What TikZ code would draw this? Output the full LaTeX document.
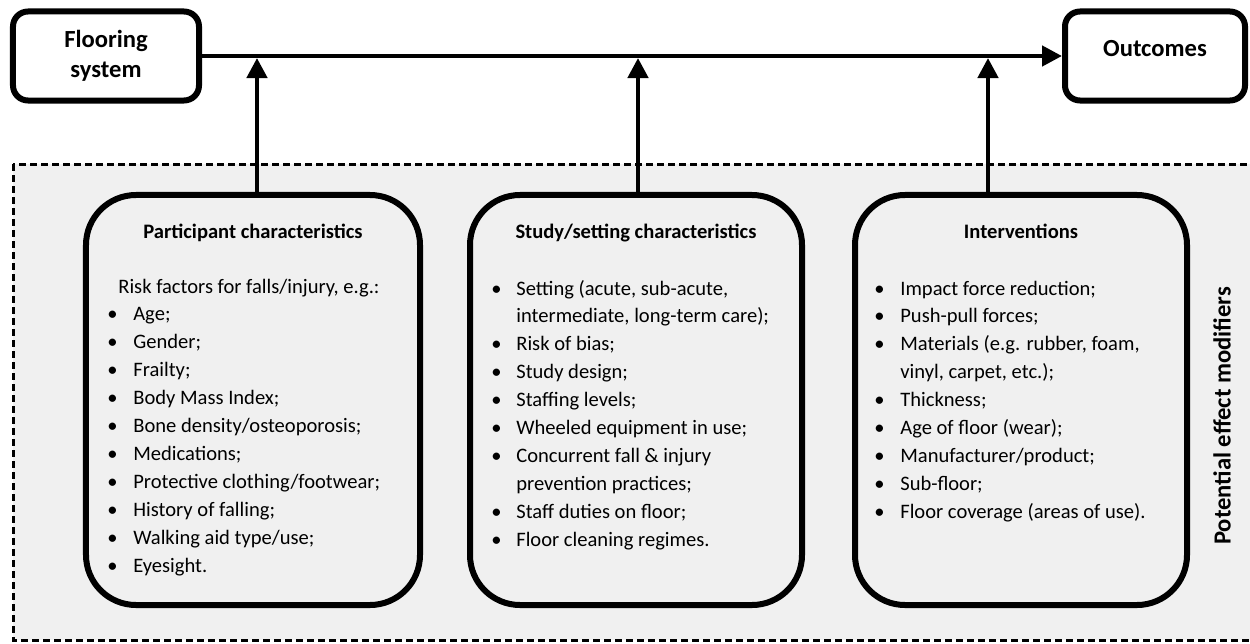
\documentclass[tikz,border=0pt]{standalone}
\usepackage{fontspec}
\setmainfont{Carlito}
\usetikzlibrary{arrows.meta}
\definecolor{panel}{HTML}{F0F0F0}
\tikzset{
  endbox/.style={draw, line width=1.2mm, rounded corners=3mm, fill=white,
    minimum height=17.8mm, align=center, inner sep=0pt,
    font=\fontsize{14}{17}\selectfont\bfseries},
  groupbox/.style={draw, line width=1.2mm, rounded corners=10mm,
    minimum height=82mm, inner sep=0pt},
  flow/.style={line width=0.9mm, -{Triangle[length=4mm,width=4mm]}},
  heading/.style={anchor=base, inner sep=0pt,
    font=\fontsize{11.7}{16}\selectfont\bfseries},
  itemlist/.style={anchor=base west, inner sep=0pt,
    font=\fontsize{11.7}{15.9}\selectfont},
  modregion/.style={line width=0.6mm, dash pattern=on 1.4mm off 0.8mm, fill=panel}
}
\begin{document}
\begin{tikzpicture}[x=0.2mm, y=-0.2mm]
  \useasboundingbox (0,0) rectangle (1250,643);
  \draw[modregion] (13,164) rectangle (1265,640);

  \node[endbox, minimum width=37.2mm] (floor) at (106,56) {Flooring\\system};
  \node[endbox, minimum width=36mm] (out) at (1155,56) {Outcomes\\[-2.8mm]~};

  \node[groupbox, minimum width=66.8mm] (part) at (253,400) {};
  \node[groupbox, minimum width=66.4mm] (study) at (636,400) {};
  \node[groupbox, minimum width=66.4mm] (int) at (1021,400) {};

  \coordinate (tap1) at (257,58);
  \coordinate (tap2) at (638,58);
  \coordinate (tap3) at (988,58);

  \draw[flow] (floor.east) -- (out.west);
  \draw[flow] (part.north -| tap1) -- (tap1);
  \draw[flow] (study.north -| tap2) -- (tap2);
  \draw[flow] (int.north -| tap3) -- (tap3);

  \node[heading] (parthead) at (253,238) {Participant characteristics};
  \node[heading] (studyhead) at (636,238) {Study/setting characteristics};
  \node[heading] (inthead) at (1021,238) {Interventions};

  \node[itemlist] (partlist) at (107,293) {%
    \begin{tabular}[t]{@{}p{5.2mm}@{}l@{}}
      \multicolumn{2}{@{\hspace{2.2mm}}l@{}}{Risk factors for falls/injury, e.g.:}\\
      \textbullet & Age;\\
      \textbullet & Gender;\\
      \textbullet & Frailty;\\
      \textbullet & Body Mass Index;\\
      \textbullet & Bone density/osteoporosis;\\
      \textbullet & Medications;\\
      \textbullet & Protective clothing/footwear;\\
      \textbullet & History of falling;\\
      \textbullet & Walking aid type/use;\\
      \textbullet & Eyesight.
    \end{tabular}};
  \node[itemlist] (studylist) at (491,295) {%
    \begin{tabular}[t]{@{}p{5mm}@{}l@{}}
      \textbullet & Setting (acute, sub-acute,\\
                  & intermediate, long-term care);\\
      \textbullet & Risk of bias;\\
      \textbullet & Study design;\\
      \textbullet & Staffing levels;\\
      \textbullet & Wheeled equipment in use;\\
      \textbullet & Concurrent fall \& injury\\
                  & prevention practices;\\
      \textbullet & Staff duties on floor;\\
      \textbullet & Floor cleaning regimes.
    \end{tabular}};
  \node[itemlist] (intlist) at (874,295) {%
    \begin{tabular}[t]{@{}p{5.2mm}@{}l@{}}
      \textbullet & Impact force reduction;\\
      \textbullet & Push-pull forces;\\
      \textbullet & Materials (e.g. rubber, foam,\\
                  & vinyl, carpet, etc.);\\
      \textbullet & Thickness;\\
      \textbullet & Age of floor (wear);\\
      \textbullet & Manufacturer/product;\\
      \textbullet & Sub-floor;\\
      \textbullet & Floor coverage (areas of use).
    \end{tabular}};

  \node[rotate=90, font=\fontsize{14}{17}\selectfont\bfseries] (modlabel) at (1222,416) {Potential effect modifiers};
\end{tikzpicture}
\end{document}
